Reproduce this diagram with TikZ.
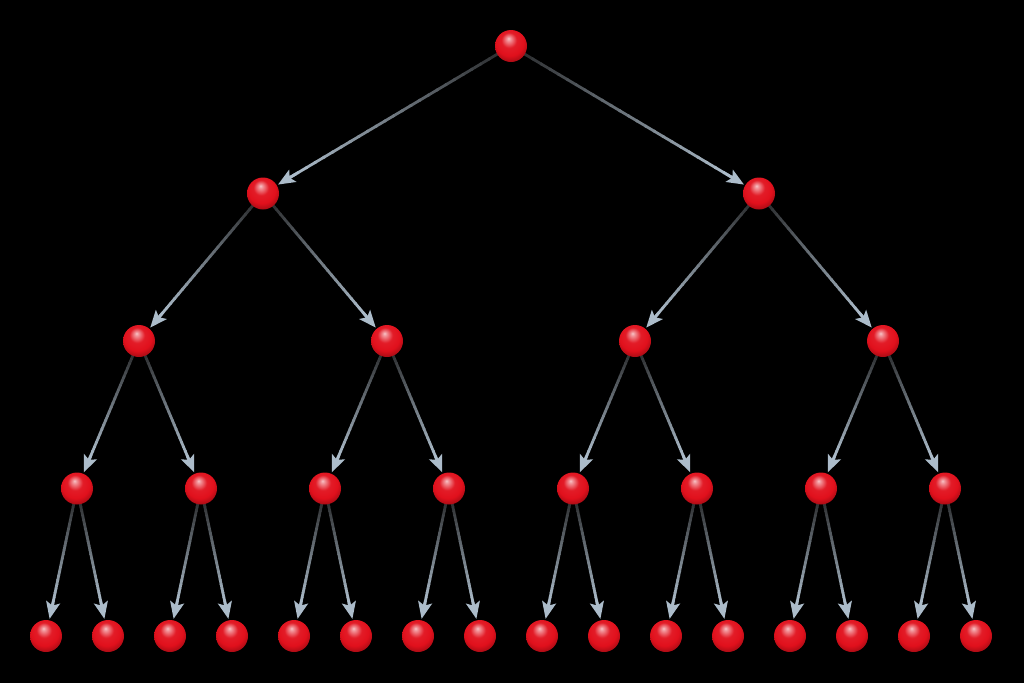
\documentclass[tikz,border=0pt]{standalone}
\usetikzlibrary{arrows.meta,calc}
\definecolor{darkline}{RGB}{48,50,52}
\definecolor{lightline}{RGB}{172,188,202}
\definecolor{ballred}{RGB}{225,16,28}
\pgfdeclareradialshading{redball}{\pgfpoint{-4bp}{12bp}}{%
  color(0bp)=(ballred!25!white);
  color(3bp)=(ballred!45!white);
  color(12bp)=(ballred!95!white);
  color(22bp)=(ballred);
  color(32bp)=(ballred!68!black);
  color(40bp)=(ballred!48!black);
  color(50bp)=(ballred!48!black)}
\tikzset{
  ball/.style={circle,minimum size=32pt,inner sep=0pt,shading=redball},
  seg/.style={line width=2.8pt},
  tip/.style={-{Stealth[length=17pt,width=14pt,inset=3.5pt]},lightline,line width=2.8pt}
}
\newcommand\gradedge[2]{%
  \coordinate (s) at ($(#1)!14pt!(#2)$);
  \coordinate (e) at ($(#2)!17.5pt!(#1)$);
  \coordinate (bse) at ($(e)!14pt!(s)$);
  \foreach \i in {0,...,23} {
    \pgfmathsetmacro\pp{100*\i/23}
    \draw[seg, color=lightline!\pp!darkline] ($(s)!\i/24!(bse)$) -- ($(s)!\i/24+0.05!(bse)$);
  }
  \draw[tip] ($(s)!0.97!(bse)$) -- (e);
}
\begin{document}
\begin{tikzpicture}[x=1pt,y=-1pt]
\fill[black] (0,0) rectangle (1024,683);
\useasboundingbox (0,0) rectangle (1024,683);
% positions (heap numbering)
\foreach \L/\n in {0/1,1/2,2/4,3/8,4/16} {
  \pgfmathtruncatemacro\m{\n-1}
  \foreach \j in {0,...,\m} {
    \pgfmathtruncatemacro\k{\n+\j}
    \pgfmathsetmacro\xx{46+62*(2^(4-\L)*(\j+0.5)-0.5)}
    \pgfmathsetmacro\yy{46+147.5*\L}
    \coordinate (p\k) at (\xx,\yy);
  }
}
% connectors
\foreach \k in {1,...,15} {
  \pgfmathtruncatemacro\a{2*\k}
  \pgfmathtruncatemacro\b{2*\k+1}
  \gradedge{p\k}{p\a}
  \gradedge{p\k}{p\b}
}
% spheres
\foreach \k in {1,...,31} {
  \node[ball] (n\k) at (p\k) {};
}
\end{tikzpicture}
\end{document}
